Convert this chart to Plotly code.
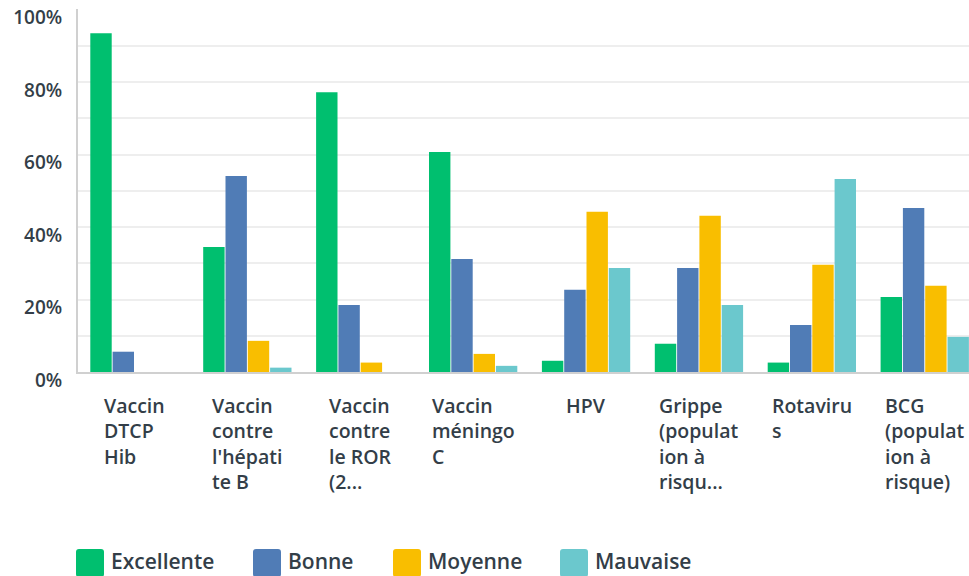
import plotly.graph_objects as go

categories = [
    "Vaccin<br>DTCP<br>Hib",
    "Vaccin<br>contre<br>l'hépati<br>te B",
    "Vaccin<br>contre<br>le ROR<br>(2...",
    "Vaccin<br>méningo<br>C",
    "HPV",
    "Grippe<br>(populat<br>ion à<br>risqu...",
    "Rotaviru<br>s",
    "BCG<br>(populat<br>ion à<br>risque)",
]
series_names = ["Excellente", "Bonne", "Moyenne", "Mauvaise"]
excellente = [93.5, 34.5, 77.2, 60.7, 3.1, 7.8, 2.6, 20.7]
bonne = [5.6, 54.1, 18.5, 31.2, 22.7, 28.7, 13.0, 45.3]
moyenne = [0, 8.6, 2.6, 5.0, 44.2, 43.1, 29.6, 23.8]
mauvaise = [0, 1.2, 0, 1.7, 28.7, 18.5, 53.3, 9.7]
y_tick_vals = [0, 10, 20, 30, 40, 50, 60, 70, 80, 90, 100]
y_tick_text = ["0%", "", "20%", "", "40%", "", "60%", "", "80%", "", "100%"]

colors = ["#00bf6f", "#507cb6", "#f9be00", "#6bc8cd"]
FONT = "Open Sans"
TXT = "#333e48"

W, H = 969, 576
ML, MR, MT, MB = 78, 0, 9, 204
PW, PH = W - ML - MR, H - MT - MB


def px(xp):
    return (xp - ML) / PW


def py(yp):
    return (H - MB - yp) / PH


def rounded_square(x0, y0, size, r):
    # pixel-space rounded square -> path in paper coordinates
    x1, y1 = x0 + size, y0 + size
    pts = [
        ("M", (x0 + r, y0)), ("L", (x1 - r, y0)), ("Q", (x1, y0), (x1, y0 + r)),
        ("L", (x1, y1 - r)), ("Q", (x1, y1), (x1 - r, y1)), ("L", (x0 + r, y1)),
        ("Q", (x0, y1), (x0, y1 - r)), ("L", (x0, y0 + r)), ("Q", (x0, y0), (x0 + r, y0)),
    ]
    out = []
    for p in pts:
        cmd = p[0]
        coords = " ".join(f"{px(a):.5f},{py(b):.5f}" for a, b in p[1:])
        out.append(f"{cmd}{coords}")
    return " ".join(out) + " Z"


fig = go.Figure()
idx = list(range(len(categories)))
for name, vals, col in zip(series_names, [excellente, bonne, moyenne, mauvaise], colors):
    fig.add_trace(go.Bar(x=idx, y=vals, name=name, marker=dict(color=col, line=dict(width=0)),
                         showlegend=False))

annotations = []
for i, lab in enumerate(categories):
    annotations.append(dict(x=i, y=0, xref="x", yref="paper", text=lab, showarrow=False,
                            xanchor="center", yanchor="top", align="left", yshift=-18,
                            font=dict(family=FONT, size=19.5, color=TXT, weight=600)))

shapes = []
legend_x = [76, 253, 393, 560]
for name, col, lx in zip(series_names, colors, legend_x):
    shapes.append(dict(type="path", xref="paper", yref="paper",
                       path=rounded_square(lx, 549, 28, 3),
                       fillcolor=col, line=dict(width=0), layer="above"))
    annotations.append(dict(x=px(lx + 33), y=py(561), xref="paper", yref="paper", text=name,
                            showarrow=False, xanchor="left", yanchor="middle",
                            font=dict(family=FONT, size=21, color=TXT, weight=600)))

fig.update_layout(
    width=W, height=H,
    margin=dict(l=ML, r=MR, t=MT, b=MB, autoexpand=False),
    paper_bgcolor="white", plot_bgcolor="white",
    barmode="group", bargap=0.21, bargroupgap=0.04,
    showlegend=False,
    annotations=annotations, shapes=shapes,
    xaxis=dict(range=[-0.5, -0.5 + PW / 112.9], showticklabels=False, showgrid=False,
               zeroline=False, showline=True, linecolor="#d0d0d0", linewidth=2, ticks=""),
    yaxis=dict(range=[0, 100.2], tickvals=y_tick_vals, ticktext=y_tick_text,
               showgrid=True, gridcolor="#eeeeee", gridwidth=2, zeroline=False,
               showline=True, linecolor="#d0d0d0", linewidth=2, ticks="",
               ticklabelstandoff=10, ticklabelshift=8, ticklabeloverflow="allow",
               tickfont=dict(family=FONT, size=19, color=TXT, weight=600)),
)

fig.write_html("out.html", post_script="document.body.style.margin='0';",
               config={"displayModeBar": False})
